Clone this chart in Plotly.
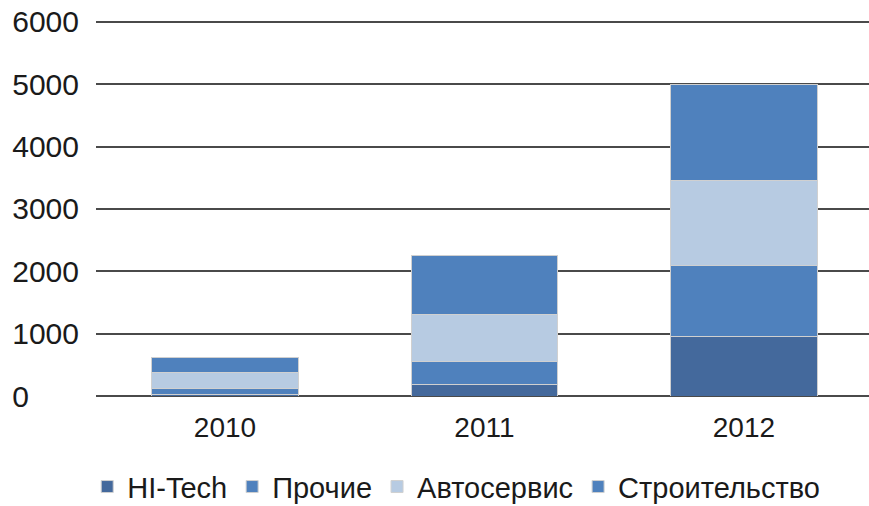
import plotly.graph_objects as go

years = ["2010", "2011", "2012"]
hitech = [20, 190, 960]
prochie = [105, 360, 1140]
avtoservis = [250, 750, 1350]
stroitelstvo = [250, 960, 1550]

series_names = ["HI-Tech", "Прочие", "Автосервис", "Строительство"]
series_values = [hitech, prochie, avtoservis, stroitelstvo]
series_colors = ["#44699C", "#4F81BD", "#B7CBE2", "#4F81BD"]

y_ticks = [0, 1000, 2000, 3000, 4000, 5000, 6000]
FS = "\u2007"
y_ticktext = [str(v) + FS * (4 - len(str(v))) for v in y_ticks]

fig = go.Figure()
for name, vals, col in zip(series_names, series_values, series_colors):
    fig.add_trace(go.Bar(
        x=years, y=vals, name=name,
        marker=dict(color=col, line=dict(color="#D0D0D0", width=1)),
    ))

fig.update_layout(
    width=869, height=506,
    barmode="stack", bargap=0.434,
    plot_bgcolor="white", paper_bgcolor="white",
    margin=dict(l=96, r=0, t=17, b=110, autoexpand=False),
    font=dict(family="Liberation Sans, Arial, sans-serif", color="#1a1a1a", size=28),
    showlegend=True,
    legend=dict(
        orientation="h", x=0.466, xanchor="center", y=-0.172, yanchor="top",
        traceorder="normal", font=dict(size=29), itemwidth=30,
        itemclick=False,
    ),
    xaxis=dict(
        type="category", range=[-0.497, 2.482],
        showgrid=False, showline=False, ticks="",
        tickfont=dict(size=28), ticklabelstandoff=12, automargin=False,
    ),
    yaxis=dict(
        range=[0, 6080], tickvals=y_ticks, ticktext=y_ticktext,
        showgrid=True, gridcolor="#4a4a4a", gridwidth=2,
        zeroline=True, zerolinecolor="#4a4a4a", zerolinewidth=2,
        showline=False, ticks="", tickfont=dict(size=30),
        ticklabelstandoff=16, automargin=False, ticklabeloverflow="allow",
    ),
)

fig.write_html(
    "out.html",
    config={"displayModeBar": False},
    post_script="document.body.style.margin='0';document.body.style.overflow='hidden';",
)
